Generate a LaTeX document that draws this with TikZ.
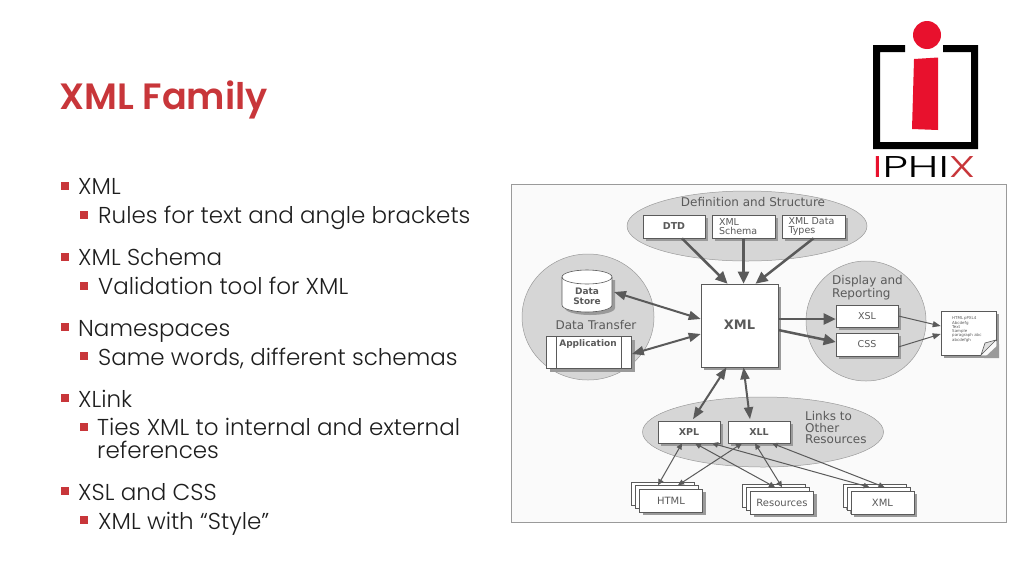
\documentclass[tikz,border=0pt]{standalone}
\usepackage{fontspec}
\setmainfont{Poppins}[UprightFont={* Light},BoldFont={* SemiBold}]
\newfontfamily\diagfont{DejaVu Sans}
\usetikzlibrary{arrows.meta,calc,shapes.geometric}
\definecolor{accent}{HTML}{C8363A}
\definecolor{ink}{HTML}{1E1E1E}
\definecolor{dgray}{HTML}{5A5A5A}
\definecolor{ell}{HTML}{D6D6D6}
\definecolor{shad}{HTML}{9A9A9A}
\definecolor{logored}{HTML}{E8112D}
\tikzset{
 x=1pt,y=-1pt,
 lv1/.style={anchor=base west,inner sep=0,text=ink,font=\fontsize{23}{26}\selectfont},
 bul/.style={fill=accent,minimum size=8pt,inner sep=0},
 ov/.style={ellipse,fill=ell,draw=shad,line width=.5pt,inner sep=0},
 bx/.style={draw=dgray,line width=.6pt,fill=white,inner sep=0,align=left,text=dgray,font=\diagfont\fontsize{9.5}{9.5}\selectfont,
   preaction={draw=none,fill=shad,transform canvas={shift={(3pt,-3pt)}}}},
 captxt/.style={inner sep=0,text=dgray,align=left,font=\diagfont\fontsize{12}{11.5}\selectfont},
 thick arrow/.style={draw=dgray,line width=2.5pt,-{Triangle[length=12pt,width=11pt]}},
 thick both/.style={draw=dgray,line width=2pt,{Triangle[length=12pt,width=9pt]}-{Triangle[length=12pt,width=9pt]}},
 thin both/.style={draw=dgray,line width=1pt,{Triangle[length=6pt,width=5.5pt]}-{Triangle[length=6pt,width=5.5pt]}},
 thin arrow/.style={draw=dgray,line width=1pt,-{Triangle[length=8pt,width=6pt]}},
}
\newcommand{\boxat}[6]{\node[bx,minimum width=#4pt,minimum height=#5pt] (#1) at (#2,#3) {#6};}
\begin{document}
\begin{tikzpicture}
\useasboundingbox (0,0) rectangle (1024,576);
\fill[white] (0,0) rectangle (1024,576);
% title
\node[anchor=base west,inner sep=0,text=accent,font=\fontsize{36.6}{38}\selectfont\bfseries] (title) at (59,109.5) {XML Family};
% bullets
\foreach \n/\y in {a/185.5,b/256.5,c/327,d/398,e/491}{\node[bul] (bul\n) at (65,\y) {};}
\foreach \n/\y in {a/215,b/285.5,c/356,d/427,e/520}{\node[bul] (sub\n) at (84,\y) {};}
\node[lv1] (t1) at (78,194) {XML};
\node[lv1] (t2) at (98,223) {Rules for text and angle brackets};
\node[lv1] (t3) at (78,265) {XML Schema};
\node[lv1] (t4) at (98,294) {Validation tool for XML};
\node[lv1] (t5) at (78,336) {Namespaces};
\node[lv1] (t6) at (98,365) {Same words, different schemas};
\node[lv1] (t7) at (78,407) {XLink};
\node[lv1] (t8) at (97,435) {Ties XML to internal and external};
\node[lv1] (t9) at (97,458) {references};
\node[lv1] (t10) at (78,500) {XSL and CSS};
\node[lv1] (t11) at (98,529) {XML with “Style”};
% logo
\fill[black] (905,45) -- (873,45) -- (873,149) -- (978,149) -- (978,45) -- (943,45) -- (943,52) -- (971,52) -- (971,142) -- (880,142) -- (880,52) -- (905,52) -- cycle;
\fill[logored] (927,35) circle[radius=14];
\fill[logored] (914,59) -- (938,57.5) -- (938,130) -- (912,129) -- cycle;
\node[anchor=base west,inner sep=0,font=\fontsize{30}{30}\selectfont,xscale=1.5] (logo) at (872,177) {\textcolor{logored}{I}PHI\textcolor{accent}{X}};
% frame
\node[draw=shad,line width=.8pt,fill=black!2,minimum width=495pt,minimum height=338pt,inner sep=0] (frame) at (759,353) {};
% ellipses
\node[ov,minimum width=240pt,minimum height=70pt] (defn) at (747,226) {};
\node[ov,minimum width=132pt,minimum height=126pt] (transfer) at (588,317) {};
\node[ov,minimum width=120pt,minimum height=120pt] (display) at (866,321) {};
\node[ov,minimum width=241pt,minimum height=70pt] (links) at (763,432) {};
% captions
\node[captxt,anchor=center] (c1) at (753,202.5) {Definition and Structure};
\node[captxt,anchor=center] (c2) at (596,325) {Data Transfer};
\node[captxt,anchor=west] (c3) at (832,287.5) {Display and\\Reporting};
\node[captxt,anchor=west] (c4) at (805,428) {Links to\\Other\\Resources};
% boxes
\boxat{dtd}{674}{226.5}{62}{23}{\textbf{DTD}}
\node[bx,minimum width=63pt,minimum height=23pt,text width=49pt] (schema) at (743.5,226.5) {XML\\Schema};
\node[bx,minimum width=63pt,minimum height=23pt,text width=50pt] (types) at (813.5,226.5) {XML Data\\Types};
\node[bx,minimum width=77pt,minimum height=83pt,font=\diagfont\bfseries\fontsize{13}{15}\selectfont] (xml) at (739.5,325.5) {\raisebox{2pt}{XML}};
\boxat{xsl}{867}{316}{62}{22}{XSL}
\boxat{css}{867}{344.5}{62}{23}{CSS}
\boxat{xpl}{689}{432}{62}{22}{\textbf{XPL}}
\boxat{xll}{759}{432}{62}{22}{\textbf{XLL}}
% application
\boxat{app}{589}{352.5}{85}{32}{}
\draw[dgray,line width=.6pt] (556,336.5) -- (556,368.5) (621,336.5) -- (621,368.5);
\node[inner sep=0,text=dgray,font=\diagfont\bfseries\fontsize{9}{9}\selectfont] (applabel) at (588,344) {Application};
% cylinder
\fill[shad] (565,280) -- (615,280) -- (615,308) arc[start angle=0,end angle=180,x radius=25,y radius=7] -- cycle;
\fill[white,draw=dgray,line width=.6pt] (562,277) arc[start angle=180,end angle=0,x radius=25,y radius=-7] -- (612,305) arc[start angle=0,end angle=180,x radius=25,y radius=7] -- cycle;
\draw[dgray,line width=.6pt] (562,277) arc[start angle=180,end angle=0,x radius=25,y radius=7];
\node[inner sep=0,align=center,text=dgray,font=\diagfont\bfseries\fontsize{9}{10}\selectfont] (store) at (587,296) {Data\\Store};
% document
\node[bx,minimum width=55pt,minimum height=44pt] (docpage) at (968.5,333) {};
\fill[black!2] (996.5,341) -- (996.5,355.5) -- (981,355.5) -- cycle;
\fill[shad] (999,344) -- (999,358) -- (984,358) -- cycle;
\draw[dgray,line width=.6pt,fill=black!12] (996,340) -- (985,343) -- (981,355) -- cycle;
\node[anchor=north west,inner sep=0,align=left,text=dgray,font=\diagfont\fontsize{4}{3.8}\selectfont] (doc) at (952,316.5) {HTML\,pPXL4\\Abcdefg\\Text\\Sample\\paragraph abc\\abcdefgh};
% stacks
\foreach \nm/\cx/\cy/\lbl in {html/671/500.5/HTML,res/782/502.5/Resources,xmlo/882.5/502.5/XML}{
  \node[bx,minimum width=63pt,minimum height=23pt] (\nm3) at (\cx-8,\cy-7) {};
  \node[bx,minimum width=63pt,minimum height=23pt] (\nm2) at (\cx-4,\cy-3.5) {};
  \node[bx,minimum width=63pt,minimum height=23pt,font=\diagfont\fontsize{10}{11}\selectfont] (\nm1) at (\cx,\cy) {\lbl};
}
% connectors
\draw[thick arrow] ([xshift=8pt]dtd.south) -- ([xshift=-12pt]xml.north);
\draw[thick arrow] (schema.south) -- ([xshift=4pt]xml.north);
\draw[thick arrow] (types.south) -- ([xshift=16pt]xml.north);
\draw[thick both] ([xshift=13pt,yshift=4pt]store.east) -- ([yshift=6.5pt]xml.west);
\draw[thick both] ([yshift=-1.5pt]app.east) -- ([yshift=-8.5pt]xml.west);
\draw[thick arrow] ([yshift=6.5pt]xml.east) -- ([yshift=-3pt]xsl.west);
\draw[thick arrow] ([yshift=-4.5pt]xml.east) -- ([yshift=2.5pt]css.west);
\draw[thin arrow] (xsl.east) -- ([yshift=7pt]docpage.west);
\draw[thin arrow] ([yshift=-2.5pt]css.east) -- ([yshift=-1pt]docpage.west);
\draw[thick both] ([xshift=-13pt]xml.south) -- ([xshift=4pt,yshift=1.5pt]xpl.north);
\draw[thick both] ([xshift=4pt]xml.south) -- ([xshift=-9pt,yshift=1.5pt]xll.north);
\draw[thin both] ([xshift=-7pt]xpl.south) -- ([xshift=-9pt]html2.north);
\draw[thin both] ([xshift=6pt]xpl.south) -- ([xshift=-3pt]res2.north);
\draw[thin both] ([xshift=23pt]xpl.south) -- ([xshift=-9pt]xmlo2.north);
\draw[thin both] ([xshift=-17pt]xll.south) -- ([xshift=11pt]html2.north);
\draw[thin both] ([xshift=-4pt]xll.south) -- ([xshift=4pt]res2.north);
\draw[thin both] ([xshift=13pt]xll.south) -- ([xshift=6pt]xmlo2.north);
\end{tikzpicture}
\end{document}
